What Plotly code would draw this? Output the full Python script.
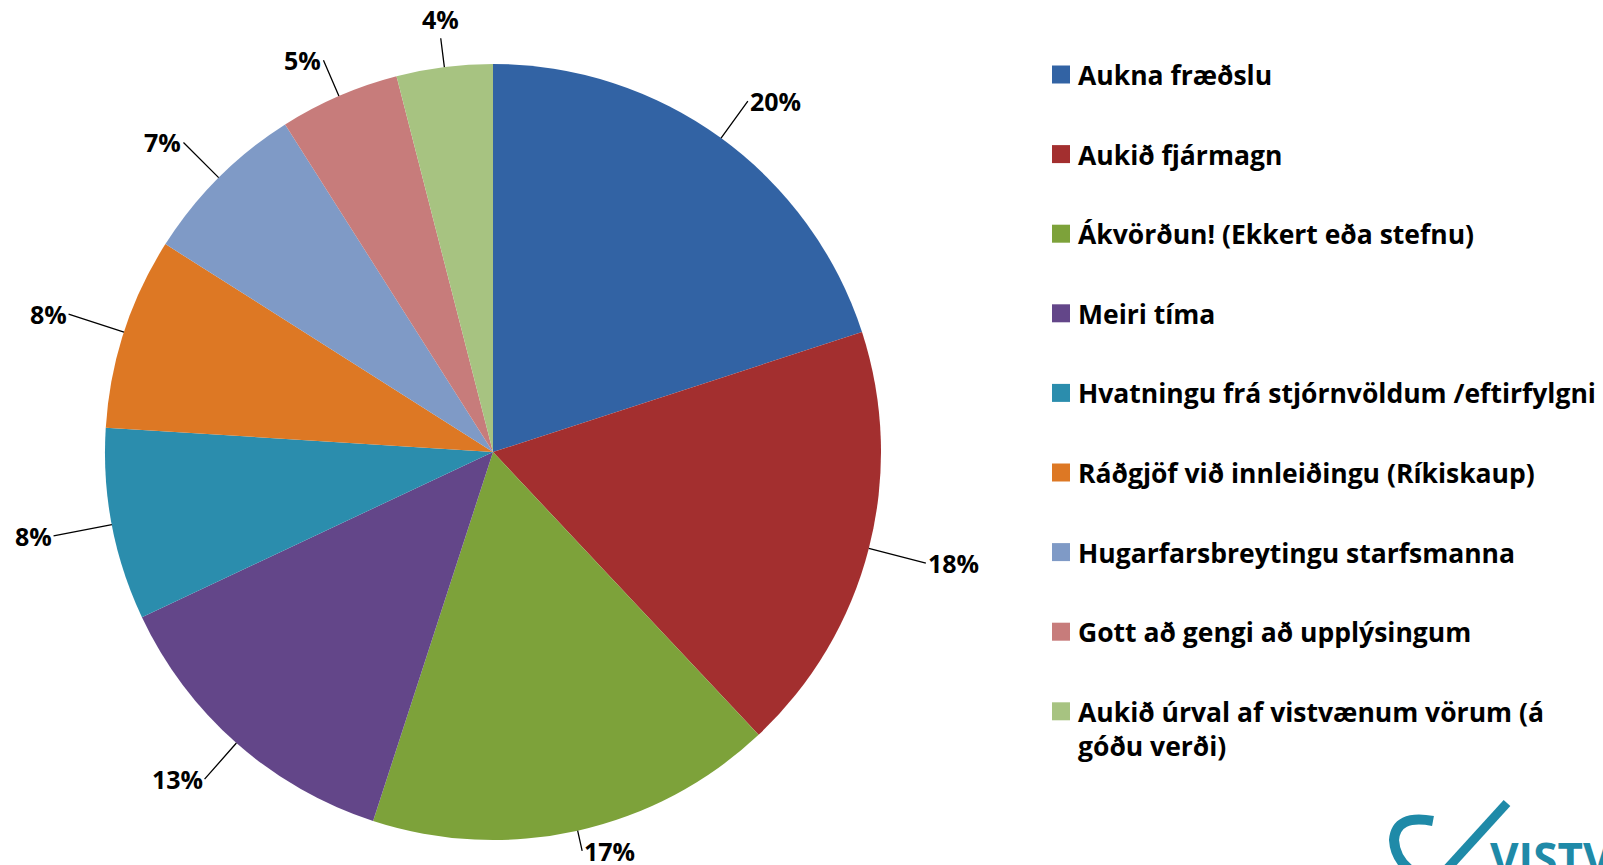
import math

import plotly.graph_objects as go

# Survey answers (share of responses, %)
categories = [
    "Aukna fræðslu",
    "Aukið fjármagn",
    "Ákvörðun! (Ekkert eða stefnu)",
    "Meiri tíma",
    "Hvatningu frá stjórnvöldum /eftirfylgni",
    "Ráðgjöf við innleiðingu (Ríkiskaup)",
    "Hugarfarsbreytingu starfsmanna",
    "Gott að gengi að upplýsingum",
    "Aukið úrval af vistvænum vörum (á<br>góðu verði)",
]
shares = [20, 18, 17, 13, 8, 8, 7, 5, 4]
colors = [
    "#3263a4", "#a32f2f", "#7da23a", "#634689", "#2b8dad",
    "#dd7824", "#7f9ac6", "#c77c7b", "#a7c381",
]

W, H = 1603, 865
FONT = "Open Sans"

# pie box in pixels (left, top, size)
pie_left, pie_top, pie_size = 105, 64, 776
r = pie_size / 2
cx_px = pie_left + r
cy_px = pie_top + r

fig = go.Figure()
fig.add_trace(
    go.Pie(
        labels=categories,
        values=shares,
        sort=False,
        direction="clockwise",
        rotation=0,
        textinfo="none",
        hoverinfo="label+percent",
        marker=dict(colors=colors, line=dict(width=0)),
        showlegend=False,
        domain=dict(
            x=[pie_left / W, (pie_left + pie_size) / W],
            y=[1 - (pie_top + pie_size) / H, 1 - pie_top / H],
        ),
    )
)

# percentage labels with leader lines, Excel style: text sits beside the line end
total = sum(shares)
cum = 0
for v in shares:
    mid = (cum + v / 2) / total * 2 * math.pi
    cum += v
    sx, sy = math.sin(mid), math.cos(mid)
    edge_x = (cx_px + r * sx) / W
    edge_y = 1 - (cy_px - r * sy) / H
    if abs(sx) < 0.2:
        lead = 29
        xa, ya = "center", ("bottom" if sy > 0 else "top")
    else:
        lead = 12 + 40 * abs(sx) if sy < -0.9 else 25 + 35 * abs(sx)
        xa, ya = ("left" if sx > 0 else "right"), "middle"
    fig.add_annotation(
        x=edge_x,
        y=edge_y,
        xref="paper",
        yref="paper",
        text=f"<b>{round(v / total * 100)}%</b>",
        showarrow=True,
        arrowhead=0,
        arrowwidth=1.3,
        arrowcolor="#000000",
        ax=lead * sx,
        ay=-lead * sy,
        xanchor=xa,
        yanchor=ya,
        font=dict(family=FONT, size=25, color="#000000"),
    )

# legend built by hand so the row spacing matches
leg_x0, leg_y0, leg_step, sq = 1052, 74.5, 79.6, 18
for i, (lab, col) in enumerate(zip(categories, colors)):
    yc = leg_y0 + i * leg_step
    fig.add_shape(
        type="rect",
        xref="paper",
        yref="paper",
        x0=leg_x0 / W,
        x1=(leg_x0 + sq) / W,
        y0=1 - (yc + sq / 2) / H,
        y1=1 - (yc - sq / 2) / H,
        fillcolor=col,
        line=dict(width=0),
    )
    fig.add_annotation(
        x=(leg_x0 + sq + 6) / W,
        y=1 - (yc - 19.5) / H,
        xref="paper",
        yref="paper",
        xanchor="left",
        yanchor="top",
        align="left",
        showarrow=False,
        text=f"<b>{lab}</b>",
        font=dict(family=FONT, size=26.5, color="#000000"),
    )

# logo in the bottom-right corner (cut off as in the source)
teal = "#1f8aa8"
fig.add_shape(
    type="path",
    xref="paper",
    yref="paper",
    path=(
        f"M {1433 / W} {1 - 821 / H} "
        f"Q {1396 / W} {1 - 814 / H} {1394 / W} {1 - 840 / H} "
        f"Q {1395 / W} {1 - 858 / H} {1410 / W} {1 - 870 / H}"
    ),
    line=dict(color=teal, width=10),
)
fig.add_shape(
    type="line",
    xref="paper",
    yref="paper",
    x0=1446 / W,
    y0=1 - 870 / H,
    x1=1507 / W,
    y1=1 - 803 / H,
    line=dict(color=teal, width=9),
)
fig.add_annotation(
    x=1488 / W,
    y=1 - 826 / H,
    xref="paper",
    yref="paper",
    xanchor="left",
    yanchor="top",
    showarrow=False,
    text="<b>VISTVÆN</b>",
    font=dict(family=FONT, size=44, color=teal),
)

fig.update_layout(
    width=W,
    height=H,
    margin=dict(l=0, r=0, t=0, b=0),
    paper_bgcolor="#ffffff",
    plot_bgcolor="#ffffff",
    font=dict(family=FONT),
)

fig.write_html(
    "out.html",
    config={"displayModeBar": False},
    post_script="document.body.style.margin='0';",
)
